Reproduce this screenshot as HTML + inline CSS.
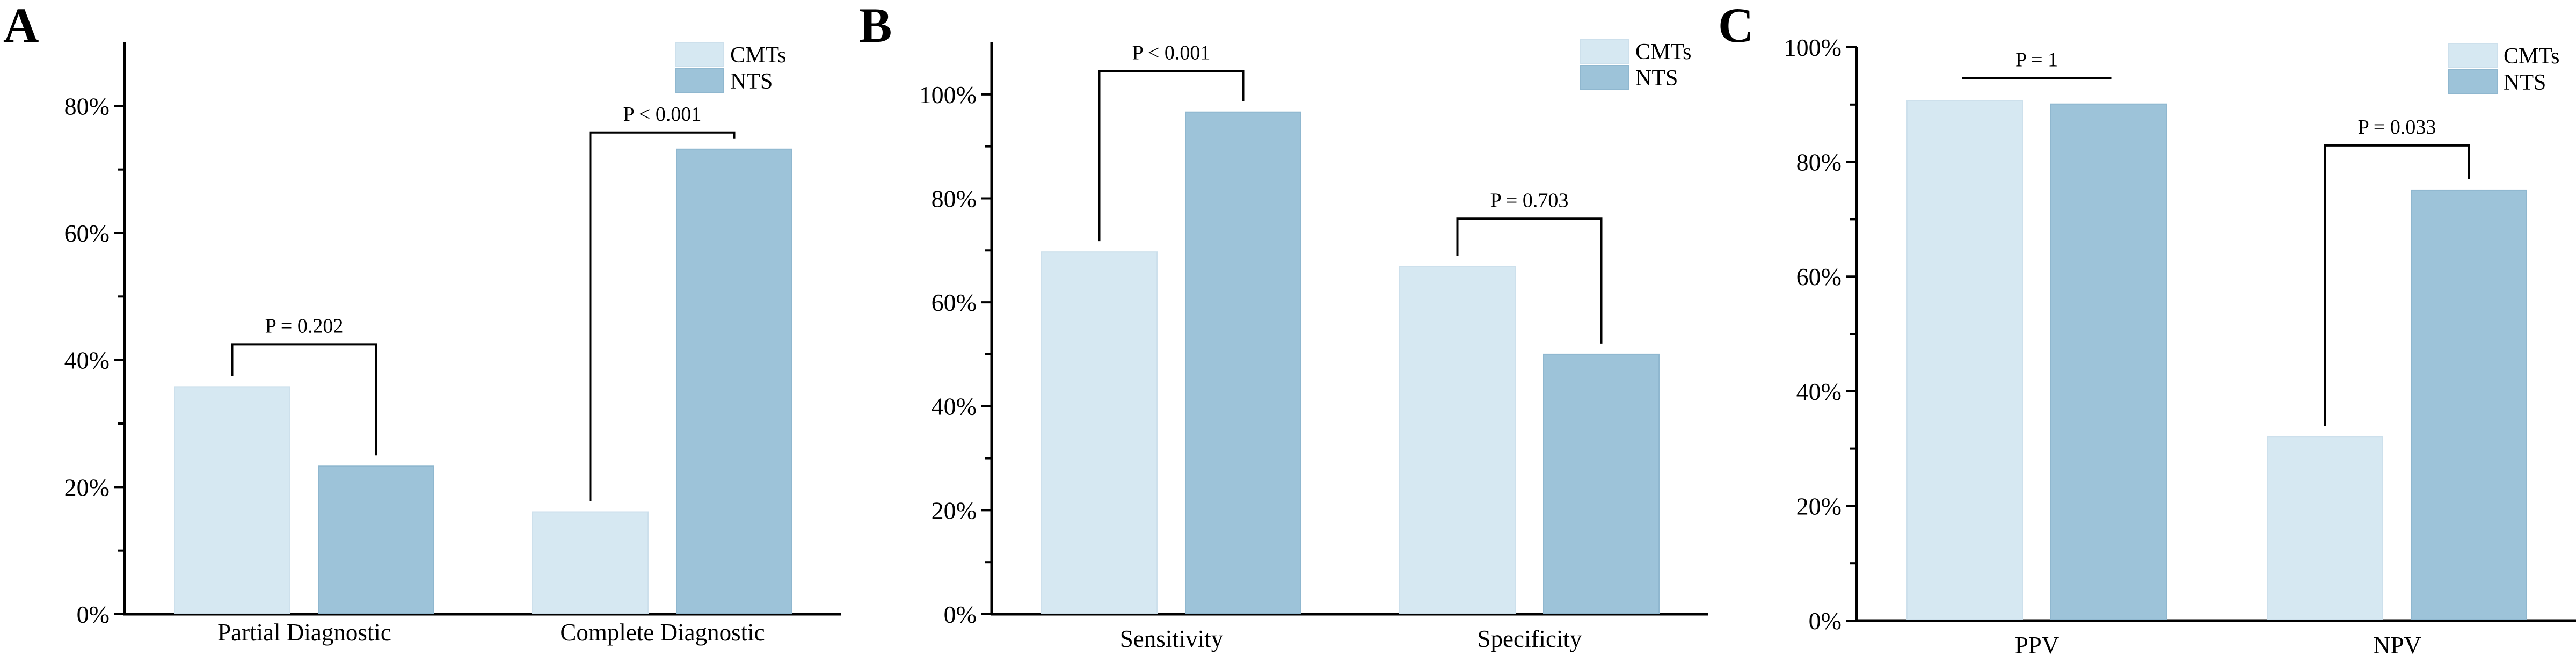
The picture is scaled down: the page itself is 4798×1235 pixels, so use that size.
<!DOCTYPE html>
<html><head><meta charset="utf-8"><style>
html,body{margin:0;padding:0;background:#fff;}
svg{display:block;font-family:"Liberation Serif",serif;}
</style></head><body>
<svg id="chart" width="4798" height="1235" viewBox="0 0 4798 1235" xmlns="http://www.w3.org/2000/svg"></svg>
<script>
// Panel A
const catsA = ["Partial Diagnostic", "Complete Diagnostic"];
const cmtsA = [35.8, 16.1];
const ntsA = [23.3, 73.2];
const ticksA = ["0%", "20%", "40%", "60%", "80%"];
const pA = ["P = 0.202", "P < 0.001"];
// Panel B
const catsB = ["Sensitivity", "Specificity"];
const cmtsB = [69.7, 66.9];
const ntsB = [96.6, 50.0];
const ticksB = ["0%", "20%", "40%", "60%", "80%", "100%"];
const pB = ["P < 0.001", "P = 0.703"];
// Panel C
const catsC = ["PPV", "NPV"];
const cmtsC = [90.7, 32.1];
const ntsC = [90.1, 75.1];
const ticksC = ["0%", "20%", "40%", "60%", "80%", "100%"];
const pC = ["P = 1", "P = 0.033"];
const series = ["CMTs", "NTS"];

const NS = "http://www.w3.org/2000/svg";
const svg = document.getElementById("chart");
function mk(tag, attrs, parent, text) {
  const e = document.createElementNS(NS, tag);
  for (const k in attrs) e.setAttribute(k, attrs[k]);
  if (text !== undefined) e.textContent = text;
  (parent || svg).appendChild(e);
  return e;
}
const LIGHT = "#d6e8f2", DARK = "#9dc3d9";

function panel(cfg) {
  const g = mk("g", {});
  
  
  const y = v => cfg.y0 - (v - 0) / cfg.ymax * (cfg.y0 - cfg.yTop);
  const l = mk("text", {x: cfg.labelX, y: 78, "font-size": 92, "font-weight": "bold"}, g, cfg.letter);
  
  
  // axes
  const ya = mk("line", {x1: cfg.ax, x2: cfg.ax, y1: cfg.yTop, y2: cfg.y0 + 2, stroke: "#000", "stroke-width": 5}, g);
  
  
  const xa = mk("line", {x1: cfg.ax - 2, x2: cfg.xEnd, y1: cfg.y0, y2: cfg.y0, stroke: "#000", "stroke-width": 5}, g);
  
  
  // ticks
  for (let v = 10; v < cfg.ymax; v += 20) {
    const t = mk("line", {x1: cfg.ax - 12, x2: cfg.ax, y1: y(v), y2: y(v), stroke: "#000", "stroke-width": 4}, g);
    
    
  }
  cfg.ticks.forEach((lab, i) => {
    const v = i * 20;
    const t = mk("line", {x1: cfg.ax - 20, x2: cfg.ax, y1: y(v), y2: y(v), stroke: "#000", "stroke-width": 4}, g);
    
    
    const tx = mk("text", {x: cfg.ax - 28, y: y(v) + 16, "font-size": 46, "text-anchor": "end"}, g, lab);
    
    
  });
  // bars
  cfg.cats.forEach((c, i) => {
    const cx = cfg.catX[i];
    const w = 215;
    const b1 = mk("rect", {x: cx - 268 + 0, y: y(cfg.cmts[i]), width: w, height: cfg.y0 - 2 - y(cfg.cmts[i]), fill: LIGHT, stroke: "#cde0ec", "stroke-width": 2}, g);
    
    
    const b2 = mk("rect", {x: cx, y: y(cfg.nts[i]), width: w, height: cfg.y0 - 2 - y(cfg.nts[i]), fill: DARK, stroke: "#8fb7cf", "stroke-width": 2}, g);
    
    
    const lx = cx - 26;
    const cl = mk("text", {x: lx, y: cfg.labY, "font-size": 45, "text-anchor": "middle"}, g, c);
    
    
    // bracket
    const x1 = cx - 268 + w / 2, x2 = cx + w / 2;
    const top = Math.min(y(cfg.cmts[i]), y(cfg.nts[i])) - cfg.brGap[i];
    let d;
    if (cfg.flat && cfg.flat[i]) {
      d = `M${x1 - 5} ${top} H${x2 + 5}`;
    } else {
      d = `M${x1} ${y(cfg.cmts[i]) - 20} V${top} H${x2} V${y(cfg.nts[i]) - 20}`;
    }
    const br = mk("path", {d: d, fill: "none", stroke: "#000", "stroke-width": 4}, g);
    
    
    const pt = mk("text", {x: (x1 + x2) / 2, y: top - 22, "font-size": 38, "text-anchor": "middle"}, g, cfg.p[i]);
    
    
  });
  // legend
  series.forEach((s, i) => {
    const ly = cfg.legY + i * 49;
    const r = mk("rect", {x: cfg.legX, y: ly, width: 90, height: 45, fill: i ? DARK : LIGHT, stroke: i ? "#8fb7cf" : "#cde0ec", "stroke-width": 2}, g);
    
    
    const t = mk("text", {x: cfg.legX + 102, y: ly + 37, "font-size": 42}, g, s);
    
    
  });
}

panel({name: "panel-a", letter: "A", labelX: 6, ax: 232, yTop: 79, y0: 1144, ymax: 90, xEnd: 1567,
  cats: catsA, cmts: cmtsA, nts: ntsA, ticks: ticksA, p: pA, catX: [593, 1260], labY: 1193,
  brGap: [79, 31], legX: 1258, legY: 79});
panel({name: "panel-b", letter: "B", labelX: 1600, ax: 1847, yTop: 79, y0: 1144, ymax: 110, xEnd: 3182,
  cats: catsB, cmts: cmtsB, nts: ntsB, ticks: ticksB, p: pB, catX: [2208, 2875], labY: 1205,
  brGap: [76, 89], legX: 2944, legY: 73});
panel({name: "panel-c", letter: "C", labelX: 3200, ax: 3458, yTop: 88, y0: 1156, ymax: 100, xEnd: 4798,
  cats: catsC, cmts: cmtsC, nts: ntsC, ticks: ticksC, p: pC, catX: [3820, 4491], labY: 1217,
  brGap: [42, 83], flat: [true, false], legX: 4561, legY: 81});
</script>
</body></html>
